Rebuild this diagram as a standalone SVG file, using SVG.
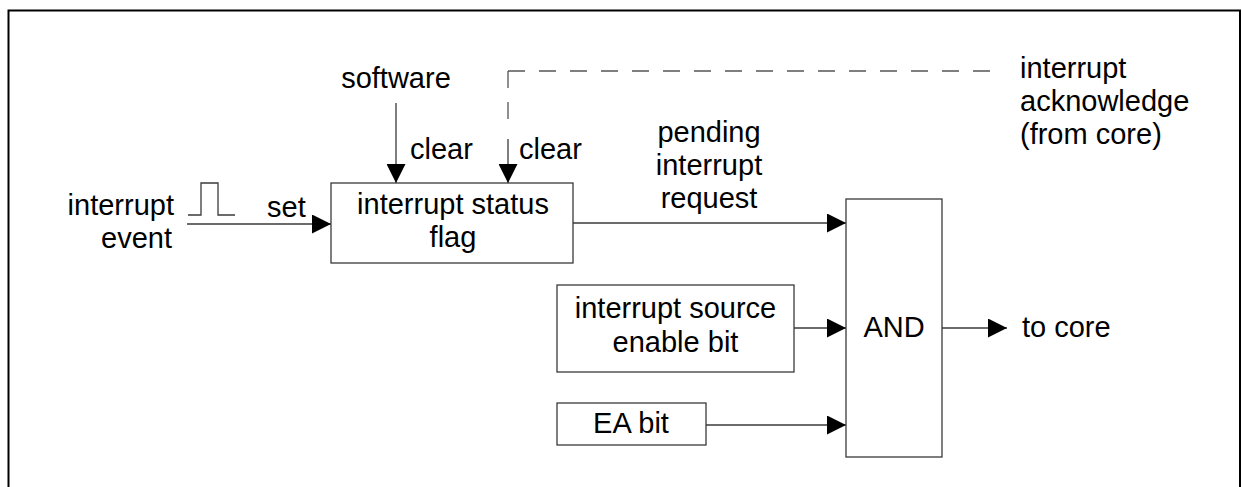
<svg xmlns="http://www.w3.org/2000/svg" width="1242" height="487" viewBox="0 0 1242 487">
<style>
text{font-family:"Liberation Sans",Arial,sans-serif;font-size:29px;fill:#000}
.box{fill:#fff;stroke:#3a3a3a;stroke-width:1.3}
.ln{fill:none;stroke:#3a3a3a;stroke-width:1.3}
.dash{fill:none;stroke:#555;stroke-width:1.3;stroke-dasharray:17 14}
.c{text-anchor:middle}
.r{text-anchor:end}
</style>
<defs>
<marker id="ah" viewBox="0 0 19 19" refX="19" refY="9.5" markerWidth="19" markerHeight="19" markerUnits="userSpaceOnUse" orient="auto">
<path d="M0,0 L19,9.5 L0,19 Z" fill="#000"/>
</marker>
</defs>
<rect width="1242" height="487" fill="#fff"/>
<path d="M8.5,495 V10.5 H1240 V495" fill="none" stroke="#000" stroke-width="2"/>

<g id="connectors">
<path class="ln" d="M188,215 H201 V183 H218 V215 H235"/>
<path class="ln" d="M187,224 H331" marker-end="url(#ah)"/>
<path class="ln" d="M396,103 V183" marker-end="url(#ah)"/>
<path class="dash" d="M508,71 H1004"/>
<path class="dash" d="M508,71 V125"/>
<path class="ln" d="M508,139 V183" marker-end="url(#ah)"/>
<path class="ln" d="M573,223 H846" marker-end="url(#ah)"/>
<path class="ln" d="M794,328 H846" marker-end="url(#ah)"/>
<path class="ln" d="M706,425 H846" marker-end="url(#ah)"/>
<path class="ln" d="M942,328 H1007" marker-end="url(#ah)"/>
</g>

<g id="labels">
<text class="r" x="174" y="215">interrupt</text>
<text class="r" x="172" y="248">event</text>
<text x="267" y="217">set</text>
<text class="c" x="396" y="88">software</text>
<text x="410" y="159">clear</text>
<text x="519" y="159">clear</text>
<text class="c" x="709" y="142">pending</text>
<text class="c" x="709" y="175">interrupt</text>
<text class="c" x="709" y="208">request</text>
<text x="1020" y="78">interrupt</text>
<text x="1020" y="111">acknowledge</text>
<text x="1020" y="144">(from core)</text>
<text x="1022" y="337">to core</text>
</g>

<g id="status-flag">
<rect class="box" x="331" y="183" width="242" height="80"/>
<text class="c" x="453" y="214">interrupt status</text>
<text class="c" x="453" y="247">flag</text>
</g>

<g id="enable-bit">
<rect class="box" x="557" y="285" width="237" height="87"/>
<text class="c" x="675.5" y="318">interrupt source</text>
<text class="c" x="675.5" y="352">enable bit</text>
</g>

<g id="ea-bit">
<rect class="box" x="557" y="403" width="149" height="42"/>
<text class="c" x="631" y="433">EA bit</text>
</g>

<g id="and-gate">
<rect class="box" x="846" y="199" width="96" height="258"/>
<text class="c" x="894" y="337">AND</text>
</g>
</svg>
